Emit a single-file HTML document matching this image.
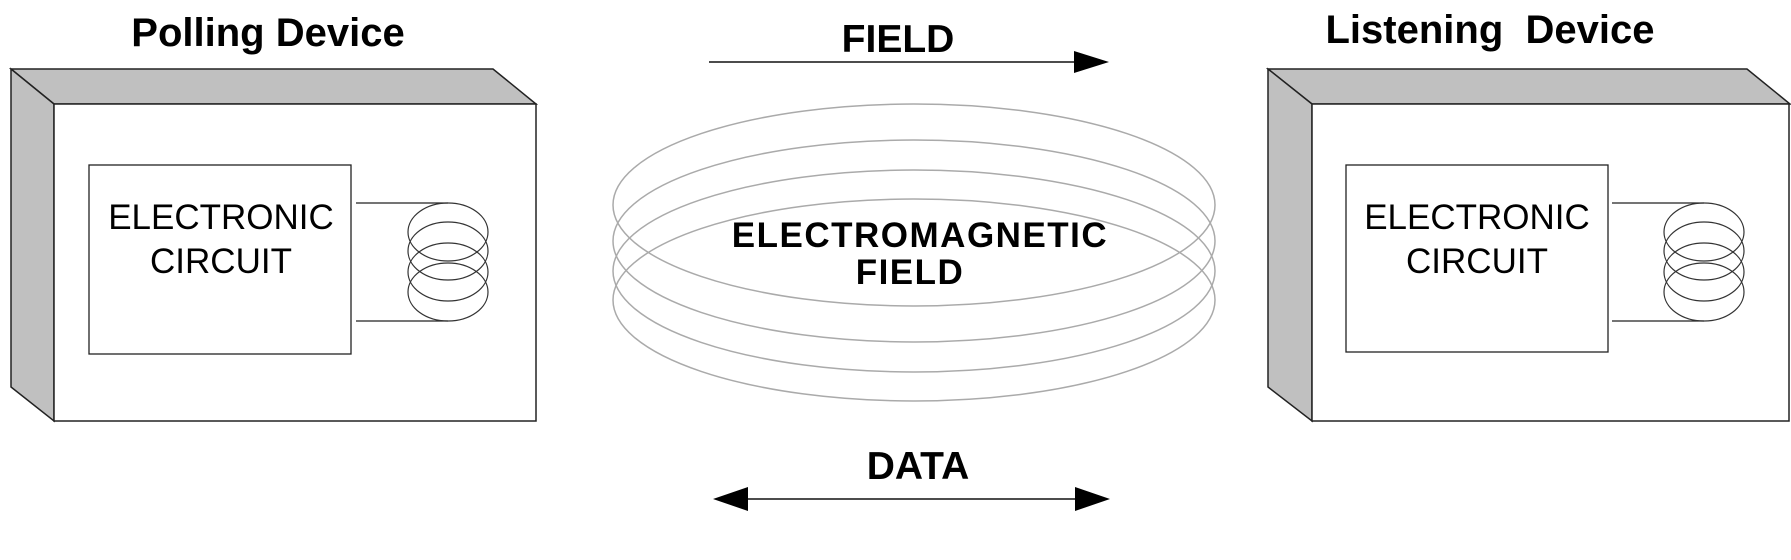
<!DOCTYPE html>
<html><head><meta charset="utf-8"><style>
html,body{margin:0;padding:0;background:#fff;}
svg{display:block;}
text{font-family:"Liberation Sans",Arial,sans-serif;fill:#000;}
</style></head><body>
<svg width="1791" height="560" viewBox="0 0 1791 560" xmlns="http://www.w3.org/2000/svg">
<!-- Left device -->
<text x="268" y="46" font-size="40" font-weight="bold" text-anchor="middle">Polling Device</text>
<polygon points="11,69 493,69 536,104 54,104" fill="#c0c0c0" stroke="#222" stroke-width="1.5"/>
<polygon points="11,69 54,104 54,421 11,387" fill="#c0c0c0" stroke="#222" stroke-width="1.5"/>
<rect x="54" y="104" width="482" height="317" fill="#fff" stroke="#222" stroke-width="1.5"/>
<rect x="89" y="165" width="262" height="189" fill="#fff" stroke="#222" stroke-width="1.3"/>
<text x="221" y="229" font-size="35" text-anchor="middle">ELECTRONIC</text>
<text x="221" y="273" font-size="35" text-anchor="middle">CIRCUIT</text>
<line x1="356" y1="203" x2="448" y2="203" stroke="#222" stroke-width="1.3"/>
<line x1="356" y1="321" x2="448" y2="321" stroke="#222" stroke-width="1.3"/>
<g fill="none" stroke="#333" stroke-width="1.2">
<ellipse cx="448" cy="232" rx="40" ry="29"/>
<ellipse cx="448" cy="251" rx="40" ry="29"/>
<ellipse cx="448" cy="272" rx="40" ry="29"/>
<ellipse cx="448" cy="292" rx="40" ry="29"/>
</g>
<!-- Right device -->
<text x="1490" y="43" font-size="40" font-weight="bold" text-anchor="middle">Listening&#160; Device</text>
<polygon points="1268,69 1747,69 1790,104 1312,104" fill="#c0c0c0" stroke="#222" stroke-width="1.5"/>
<polygon points="1268,69 1312,104 1312,421 1268,387" fill="#c0c0c0" stroke="#222" stroke-width="1.5"/>
<rect x="1312" y="104" width="477" height="317" fill="#fff" stroke="#222" stroke-width="1.5"/>
<rect x="1346" y="165" width="262" height="187" fill="#fff" stroke="#222" stroke-width="1.3"/>
<text x="1477" y="229" font-size="35" text-anchor="middle">ELECTRONIC</text>
<text x="1477" y="273" font-size="35" text-anchor="middle">CIRCUIT</text>
<line x1="1612" y1="203" x2="1704" y2="203" stroke="#222" stroke-width="1.3"/>
<line x1="1612" y1="321" x2="1704" y2="321" stroke="#222" stroke-width="1.3"/>
<g fill="none" stroke="#333" stroke-width="1.2">
<ellipse cx="1704" cy="232" rx="40" ry="29"/>
<ellipse cx="1704" cy="251" rx="40" ry="29"/>
<ellipse cx="1704" cy="272" rx="40" ry="29"/>
<ellipse cx="1704" cy="292" rx="40" ry="29"/>
</g>
<!-- Middle -->
<text x="898" y="52" font-size="39" font-weight="bold" text-anchor="middle">FIELD</text>
<line x1="709" y1="62" x2="1076" y2="62" stroke="#111" stroke-width="1.5"/>
<polygon points="1074,51 1109,62 1074,73" fill="#000"/>
<g fill="none" stroke="#aaa" stroke-width="1.5">
<ellipse cx="914" cy="205" rx="301" ry="101"/>
<ellipse cx="914" cy="241" rx="301" ry="101"/>
<ellipse cx="914" cy="271" rx="301" ry="101"/>
<ellipse cx="914" cy="300" rx="301" ry="101"/>
</g>
<text x="920" y="247" font-size="35" font-weight="bold" text-anchor="middle" letter-spacing="1.5">ELECTROMAGNETIC</text>
<text x="910" y="284" font-size="35" font-weight="bold" text-anchor="middle" letter-spacing="1.5">FIELD</text>
<text x="918" y="479" font-size="39" font-weight="bold" text-anchor="middle">DATA</text>
<line x1="745" y1="499" x2="1078" y2="499" stroke="#111" stroke-width="1.5"/>
<polygon points="748,487 713,499 748,511" fill="#000"/>
<polygon points="1075,487 1110,499 1075,511" fill="#000"/>
</svg>
</body></html>
